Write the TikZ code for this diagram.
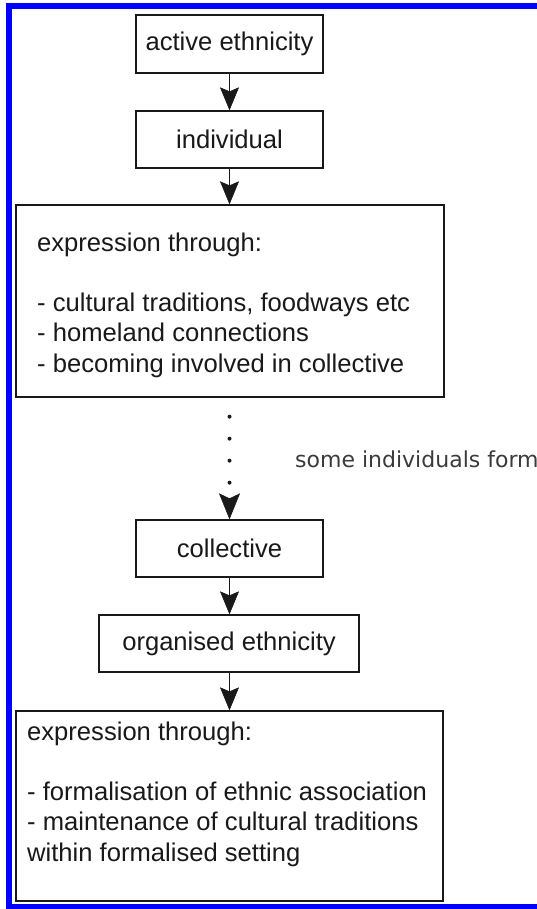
\documentclass[tikz,border=0pt]{standalone}
\usepackage{fontspec}
\setmainfont{Liberation Sans}
\newfontfamily\labelfont{DejaVu Sans}
\usetikzlibrary{arrows.meta}
\definecolor{frameblue}{RGB}{0,0,255}
\definecolor{ink}{RGB}{25,25,25}
\tikzset{
  box/.style={draw=ink, line width=1.3pt, rectangle, inner sep=0pt, text=ink,
    font=\fontsize{25.6}{30.5}\selectfont},
  boxtext/.style={anchor=north west, inner sep=0pt, align=left, text=ink,
    font=\fontsize{25.6}{30.5}\selectfont},
  flow/.style={draw=ink, line width=1.4pt,
    -{Stealth[length=23pt,width=19pt,inset=4pt,line width=0.6pt]}},
  dotflow/.style={draw=ink, line width=4pt, line cap=round,
    dash pattern=on 0pt off 22pt, dash phase=3pt,
    -{Stealth[length=26pt,width=21pt,inset=5pt,line width=0.6pt]}},
}
\begin{document}
\begin{tikzpicture}[x=1pt,y=-1pt]
\useasboundingbox (0,0) rectangle (537,909);
\fill[white] (0,0) rectangle (537,909);
% blue frame
\draw[frameblue, line width=6pt] (9,930) -- (9,6.5) -- (560,6.5);
\draw[frameblue, line width=6pt] (9,907) -- (560,907);

\node[box, minimum width=187pt, minimum height=58pt] (a) at (229.5,44) {active ethnicity};
\node[box, minimum width=187pt, minimum height=57pt] (b) at (229.5,139.5) {individual};
\node[box, minimum width=428pt, minimum height=192pt] (c) at (230,301) {};
\node[boxtext] (ct) at (37,233) {expression through:\\[29pt]- cultural traditions, foodways etc\\- homeland connections\\- becoming involved in collective};
\node[box, minimum width=187pt, minimum height=57pt] (d) at (229.5,548.5) {collective};
\node[box, minimum width=260pt, minimum height=57pt] (e) at (229,643.5) {organised ethnicity};
\node[box, minimum width=427pt, minimum height=190pt] (f) at (229.5,806) {};
\node[boxtext] (ft) at (27,722) {expression through:\\[29pt]- formalisation of ethnic association\\- maintenance of cultural traditions\\within formalised setting};

\node[anchor=base west, inner sep=0pt, text=ink!85, font=\labelfont\fontsize{22}{25}\selectfont] (lab) at (295,467) {some individuals form};

\draw[flow] (a) -- (b);
\draw[flow] (b) -- (b|-c.north);
\draw[dotflow] (c.south -| d) -- (d);
\draw[flow] (d) -- (e.north -| d);
\draw[flow] (e.south -| d) -- (f.north -| d);
\end{tikzpicture}
\end{document}
